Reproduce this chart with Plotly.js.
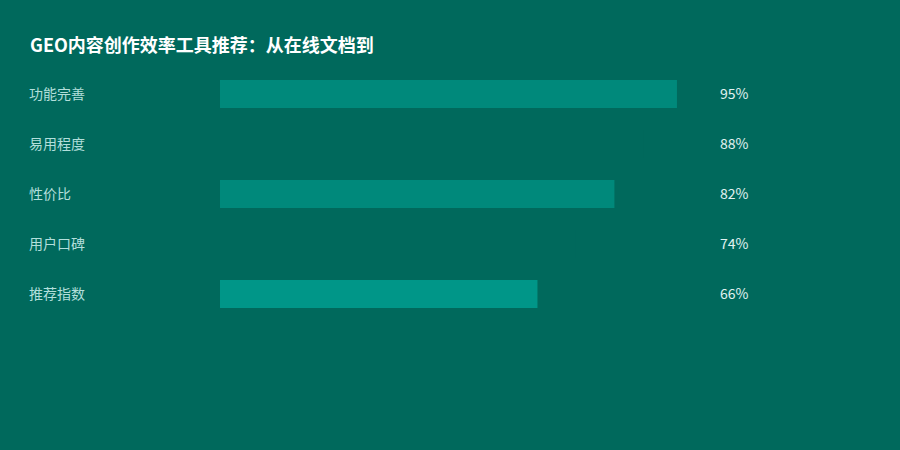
<!DOCTYPE html>
<html><head><meta charset="utf-8">
<script src="https://cdn.plot.ly/plotly-3.0.1.min.js"></script>
<style>html,body{margin:0;padding:0;background:#00695c;}#chart{width:900px;height:450px;}</style>
</head><body><div id="chart"></div>
<script>
const categories = ["功能完善", "易用程度", "性价比", "用户口碑", "推荐指数"];
const values = [95, 88, 82, 74, 66];
const barColors = ["#00897b", "#00695c", "#00897b", "#00695c", "#009688"];
const valueLabels = values.map(v => v + "%");

const font = "'Noto Sans CJK SC', 'Open Sans', sans-serif";
const annotations = [];
categories.forEach((c, i) => {
  annotations.push({xref: "paper", yref: "y", x: -0.395, y: c, text: c, showarrow: false,
    xanchor: "left", yanchor: "middle", xshift: -2, yshift: 1.5, borderpad: 0,
    font: {family: font, size: 14, color: "#b2dfdb"}});
  annotations.push({xref: "paper", yref: "y", x: 1.0395, y: c, text: valueLabels[i], showarrow: false,
    xanchor: "left", yanchor: "middle", xshift: -1, yshift: 1.5, borderpad: 0,
    font: {family: font, size: 14, color: "#e0f2f1"}});
});

Plotly.newPlot("chart", [{
  type: "bar", orientation: "h", x: values, y: categories,
  marker: {color: barColors, line: {width: 0}}, hoverinfo: "skip"
}], {
  width: 900, height: 450,
  paper_bgcolor: "#00695c", plot_bgcolor: "#00695c",
  margin: {l: 220, r: 199, t: 69, b: 131},
  title: {text: "<b>GEO内容创作效率工具推荐：从在线文档到</b>", x: 30/900, xanchor: "left", xref: "container",
    y: 1 - 46/450, yanchor: "middle", yref: "container",
    font: {family: font, size: 18, color: "#ffffff"}},
  bargap: 0.44,
  xaxis: {range: [0, 100], visible: false, fixedrange: true},
  yaxis: {autorange: "reversed", visible: false, fixedrange: true},
  showlegend: false,
  annotations: annotations
}, {displayModeBar: false, staticPlot: true});
</script></body></html>
